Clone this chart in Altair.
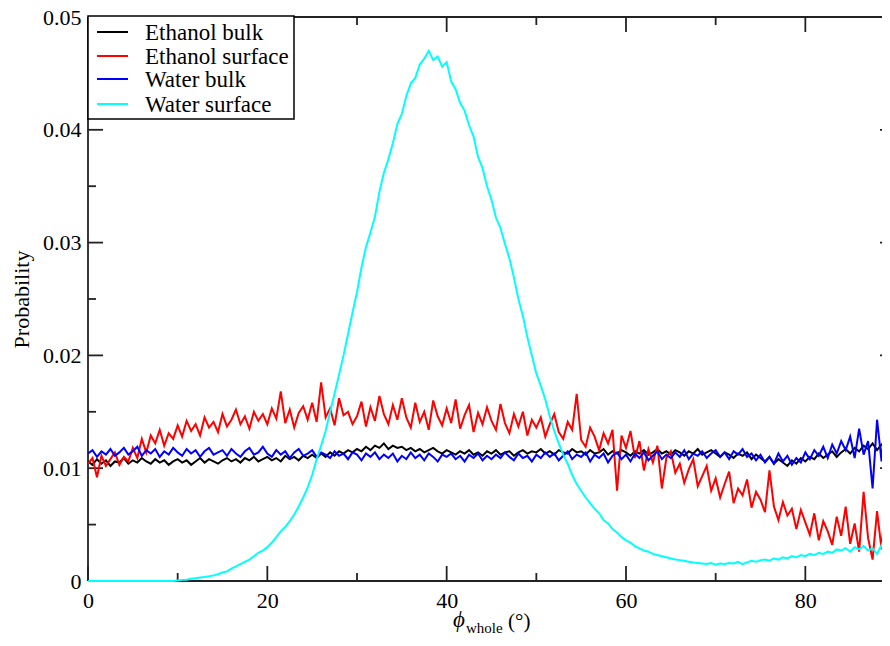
import altair as alt
import pandas as pd

# ---------------- data (probability in units of 1e-3) ----------------
phi = [i * 0.5 for i in range(181)]  # 0 .. 90 degrees, sampling grid

series_names = ["Ethanol bulk", "Ethanol surface", "Water bulk", "Water surface"]
series_colors = ["#000000", "#ff0000", "#0000ff", "#00ffff"]

ethanol_bulk = [
    10.6, 10.3, 10.8, 10.4, 10.7, 10.2, 10.6, 10.5, 10.9, 10.4,
    10.7, 10.5, 10.9, 10.6, 10.4, 10.8, 10.5, 10.7, 10.3, 10.6,
    10.8, 10.5, 10.7, 10.3, 10.6, 10.9, 10.5, 10.8, 10.6, 10.4,
    10.7, 10.9, 10.6, 10.8, 10.5, 10.9, 10.7, 11.0, 10.6, 10.8,
    11.0, 10.7, 10.9, 10.6, 11.1, 10.8, 11.0, 10.7, 11.1, 10.9,
    11.2, 10.9, 11.3, 11.0, 11.4, 11.1, 11.5, 11.3, 11.6, 11.4,
    11.7, 11.5, 11.9, 11.6, 12.0, 11.8, 12.2, 11.7, 12.0, 11.8,
    11.9, 11.6, 11.8, 11.5, 11.7, 11.4, 11.6, 11.8, 11.5, 11.3,
    11.6, 11.4, 11.2, 11.5, 11.3, 11.6, 11.2, 11.4, 11.1, 11.5,
    11.3, 11.6, 11.2, 11.4, 11.5, 11.1, 11.4, 11.6, 11.3, 11.5,
    11.4, 11.7, 11.3, 11.5, 11.2, 11.6, 11.4, 11.3, 11.7, 11.4,
    11.5, 11.2, 11.6, 11.3, 11.4, 11.7, 11.2, 11.5, 11.3, 11.6,
    11.4, 11.1, 11.5, 11.3, 11.6, 11.2, 11.4, 11.7, 11.3, 11.5,
    11.2, 11.6, 11.4, 11.1, 11.5, 11.3, 11.7, 11.2, 11.4, 11.6,
    11.3, 11.0, 11.4, 11.2, 10.9, 11.3, 11.1, 11.4, 10.8, 11.2,
    10.9, 10.6, 11.0, 10.4, 10.8, 10.5, 10.2, 10.7, 10.4, 10.9,
    10.6, 11.0, 10.8, 11.3, 10.9, 11.2, 11.5, 11.0, 11.4, 11.7,
    11.3, 11.8, 11.5, 12.0, 11.7, 12.2, 11.6, 12.1, 11.9, 12.3,
    11.8,
]

ethanol_surface = [
    10.4, 10.9, 9.2, 11.1, 10.2, 10.8, 11.4, 10.3, 11.0, 10.6,
    11.8, 10.9, 12.6, 11.4, 12.9, 12.2, 13.4, 12.0, 13.1, 12.6,
    13.8, 12.8, 14.2, 13.3, 13.9, 12.9, 14.5, 13.6, 14.1, 13.2,
    14.8, 13.7, 14.3, 15.2, 13.9, 14.6, 13.5, 15.0, 14.2, 14.8,
    13.9, 15.3, 14.4, 16.8, 14.0, 15.2, 13.6, 14.9, 15.5, 14.3,
    15.8, 14.1, 17.6, 14.5, 15.3, 13.8, 16.2, 14.7, 15.0, 13.9,
    14.6, 15.9, 13.7, 15.4, 14.2, 16.4, 14.8, 13.9, 15.6, 14.3,
    16.2, 14.5, 13.6, 15.8, 14.1, 15.0, 13.4, 16.0, 14.6, 13.8,
    15.3, 14.0, 16.1, 13.5, 14.7, 15.6, 13.2, 14.9, 13.9, 15.4,
    14.2, 13.4, 15.7, 14.0, 13.1, 14.8, 13.7, 15.0, 12.9, 14.3,
    13.6, 14.5, 12.8, 13.9, 14.8, 13.2, 12.6, 14.1, 13.4, 16.6,
    12.5, 11.9, 13.6, 12.8, 11.6, 13.1, 12.2, 13.4, 8.0, 12.9,
    11.8, 13.3, 10.9, 12.4, 9.8, 11.7, 10.5, 12.0, 8.2, 10.9,
    11.5, 9.6, 10.4, 8.7, 9.9, 10.8, 8.4, 9.3, 10.2, 8.0,
    9.1, 7.4, 8.6, 9.7, 6.9, 8.2, 7.6, 9.0, 6.5, 7.9,
    7.2, 6.1, 9.8, 6.6, 5.4, 7.0, 5.8, 6.4, 4.6, 6.3,
    5.2, 4.1, 6.0, 3.6, 5.3, 4.4, 3.2, 5.7, 4.0, 6.6,
    3.3, 5.1, 2.6, 7.9, 3.8, 1.9, 6.2, 2.8, 8.1, 2.4,
    0.5,
]

water_bulk = [
    11.3, 11.6, 11.0, 11.5, 11.2, 11.7, 11.1, 11.4, 11.8, 11.2,
    11.5, 11.9, 11.1, 11.6, 11.3, 11.7, 11.0, 11.5, 11.2, 11.8,
    11.4, 11.1, 11.7, 11.3, 11.6, 11.0, 11.5, 11.8, 11.2, 11.4,
    11.6, 11.1, 11.7, 11.3, 11.0, 11.5, 11.8, 11.2, 11.4, 11.9,
    11.3, 11.0, 11.6, 11.2, 11.5, 10.9, 11.4, 11.7, 11.1, 11.3,
    11.6, 11.0, 11.4, 11.2, 10.9, 11.5, 11.1, 11.3, 10.8, 11.4,
    11.2, 10.7, 11.3, 11.0, 11.4, 10.8, 11.2, 10.9, 11.3, 10.6,
    11.1, 10.8, 11.4, 10.9, 11.2, 10.7, 11.3, 11.0, 10.6, 11.2,
    11.0, 11.3, 10.8, 11.1, 10.6, 11.2, 10.9, 11.3, 10.7, 11.1,
    10.8, 11.2, 10.9, 11.4, 11.0, 10.7, 11.3, 10.9, 11.1, 10.6,
    11.2, 10.9, 11.4, 11.0, 11.3, 10.7, 11.1, 11.5, 10.8, 11.2,
    11.0, 11.4, 10.6, 11.2, 10.9, 11.3, 10.5, 11.1, 11.4, 10.8,
    11.2, 10.6, 11.3, 10.9, 11.4, 10.7, 11.1, 11.5, 10.8, 11.2,
    10.9, 11.4, 11.0, 11.6, 10.8, 11.3, 11.1, 11.5, 10.9, 11.3,
    11.6, 11.0, 11.4, 10.8, 11.5, 11.2, 11.7, 11.0, 11.3, 10.7,
    11.2, 10.5, 11.0, 10.4, 11.3, 10.6, 11.1, 10.3, 10.9, 10.5,
    11.4, 10.8, 11.6, 11.1, 11.9, 10.9, 12.1, 11.3, 12.4, 11.6,
    12.8, 10.9, 13.5, 11.2, 12.4, 8.2, 14.3, 10.6, 16.0, 11.0,
    13.2,
]

water_surface = [
    0.0, 0.0, 0.0, 0.0, 0.0, 0.0, 0.0, 0.0, 0.0, 0.0,
    0.0, 0.0, 0.0, 0.0, 0.0, 0.0, 0.0, 0.0, 0.0, 0.0,
    0.05, 0.1, 0.12, 0.2, 0.25, 0.3, 0.35, 0.42, 0.5, 0.6,
    0.75, 0.85, 1.1, 1.3, 1.5, 1.7, 1.9, 2.2, 2.5, 2.7,
    3.0, 3.4, 3.9, 4.4, 4.8, 5.3, 5.9, 6.6, 7.4, 8.3,
    9.4, 10.8, 12.0, 13.3, 15.0, 16.6, 18.3, 20.0, 21.9, 23.8,
    25.6, 27.8, 29.6, 30.9, 32.3, 34.5, 36.2, 37.4, 38.8, 40.5,
    41.4, 43.0, 44.1, 44.6, 45.8, 46.3, 47.0, 46.2, 46.5, 45.6,
    46.0, 44.3, 43.6, 42.4, 41.7, 40.4, 39.4, 37.6, 36.6, 35.0,
    33.8, 32.2, 31.3, 29.9, 28.6, 26.9, 25.0, 23.5, 21.6, 20.0,
    18.4, 17.3, 16.1, 14.6, 13.3, 12.2, 11.2, 10.4, 9.4, 8.6,
    8.0, 7.4, 6.9, 6.4, 6.0, 5.4, 5.1, 4.6, 4.3, 3.9,
    3.6, 3.4, 3.1, 2.9, 2.7, 2.6, 2.4, 2.3, 2.2, 2.1,
    2.0, 1.9, 1.85, 1.8, 1.7, 1.65, 1.6, 1.55, 1.5, 1.6,
    1.45, 1.55, 1.5, 1.6, 1.55, 1.7, 1.5, 1.65, 1.8, 1.7,
    1.85, 1.9, 1.8, 2.0, 1.9, 2.1, 2.0, 2.2, 2.1, 2.3,
    2.2, 2.4, 2.3, 2.5, 2.4, 2.6, 2.5, 2.8, 2.7, 2.9,
    2.6, 3.0, 2.8, 3.1, 2.7, 2.9, 2.4, 3.2, 1.8, 2.6,
    1.4,
]

x_major = [0, 20, 40, 60, 80]
x_minor = [10, 30, 50, 70]
y_major = [0, 0.01, 0.02, 0.03, 0.04, 0.05]
y_minor = [0.005, 0.015, 0.025, 0.035, 0.045]

# ---------------- tables ----------------
rows = []
for name, vals in zip(series_names, [ethanol_bulk, ethanol_surface, water_bulk, water_surface]):
    for p, v in zip(phi, vals):
        rows.append({"phi": p, "prob": v / 1000.0, "series": name})
df = pd.DataFrame(rows)

X0, X1, Y0, Y1 = 0.0, 90.0, 0.0, 0.05
W_RANGE = 807.0   # pixel length of the full 0..90 range (right edge lies off-page)
W = 794
H = 564
xpx = (X1 - X0) / W_RANGE
ypx = (Y1 - Y0) / H
MAJ, MIN = 15, 8

frame = []
frame += [dict(x=X0, x2=X1, y=Y0, y2=Y0), dict(x=X0, x2=X1, y=Y1, y2=Y1),
          dict(x=X0, x2=X0, y=Y0, y2=Y1), dict(x=X1, x2=X1, y=Y0, y2=Y1)]
for t, L in [(t, MAJ) for t in x_major] + [(t, MIN) for t in x_minor]:
    frame.append(dict(x=t, x2=t, y=Y0, y2=Y0 + L * ypx))
    frame.append(dict(x=t, x2=t, y=Y1, y2=Y1 - L * ypx))
for t, L in [(t, MAJ) for t in y_major] + [(t, MIN) for t in y_minor]:
    frame.append(dict(x=X0, x2=X0 + L * xpx, y=t, y2=t))
    frame.append(dict(x=X1, x2=X1 - L * xpx, y=t, y2=t))
frame_df = pd.DataFrame(frame)

# legend rows: pixel offsets from the plot top, expressed on the y scale
leg_px = [15, 39, 62, 87]
leg_df = pd.DataFrame({"series": series_names,
                       "ly": [Y1 - p * ypx for p in leg_px]})

FONT = "Liberation Serif"
xscale = alt.Scale(domain=[X0, X1], range=[0, W_RANGE], nice=False, zero=False)
yscale = alt.Scale(domain=[Y0, Y1], nice=False, zero=False)
cscale = alt.Scale(domain=series_names, range=series_colors)

ticks = alt.Chart(frame_df).mark_rule(color="#222222", strokeWidth=1.8).encode(
    x=alt.X("x:Q", scale=xscale), x2="x2:Q",
    y=alt.Y("y:Q", scale=yscale), y2="y2:Q",
)

lines = alt.Chart(df).mark_line(strokeWidth=2, clip=False).encode(
    x=alt.X("phi:Q", scale=xscale,
            axis=alt.Axis(values=x_major, title="", domain=False, ticks=False, grid=False,
                          labelFlush=False, labelFont=FONT, labelFontSize=22,
                          labelColor="black", labelPadding=9)),
    y=alt.Y("prob:Q", scale=yscale,
            axis=alt.Axis(values=y_major, domain=False, ticks=False, grid=False,
                          labelFlush=False,
                          labelExpr="datum.value == 0 ? '0' : format(datum.value, '.2f')",
                          labelFont=FONT, labelFontSize=22, labelColor="black",
                          labelPadding=7,
                          title="Probability", titleFont=FONT, titleFontSize=22,
                          titleFontWeight="normal", titleColor="black",
                          titleAngle=270, titleX=-67, titleY=282,
                          titleAlign="center", titleBaseline="middle")),
    color=alt.Color("series:N", scale=cscale, legend=None),
    detail="series:N",
)

# ---- legend box ----
leg_box = alt.Chart(pd.DataFrame({"a": [0]})).mark_rect(
    fill="white", stroke="black", strokeWidth=1.5).encode(
    x=alt.value(0), x2=alt.value(206), y=alt.value(-1), y2=alt.value(102))
leg_sym = alt.Chart(leg_df).mark_rule(strokeWidth=2).encode(
    x=alt.value(9), x2=alt.value(40),
    y=alt.Y("ly:Q", scale=yscale),
    color=alt.Color("series:N", scale=cscale, legend=None))
leg_txt = alt.Chart(leg_df).mark_text(font=FONT, fontSize=23, align="left",
                                      baseline="middle", color="black", dy=1).encode(
    x=alt.value(57),
    y=alt.Y("ly:Q", scale=yscale),
    text="series:N")

one = pd.DataFrame({"a": [0]})
t_phi = alt.Chart(one).mark_text(font=FONT, fontSize=23, fontStyle="italic",
                                 align="left", baseline="alphabetic", color="black").encode(
    x=alt.value(365), y=alt.value(610), text=alt.value("ϕ"))
t_sub = alt.Chart(one).mark_text(font=FONT, fontSize=15,
                                 align="left", baseline="alphabetic", color="black").encode(
    x=alt.value(378), y=alt.value(616), text=alt.value("whole"))
t_deg = alt.Chart(one).mark_text(font=FONT, fontSize=21,
                                 align="left", baseline="alphabetic", color="black").encode(
    x=alt.value(420), y=alt.value(611), text=alt.value("(°)"))

chart = alt.layer(ticks, lines, leg_box, leg_sym, leg_txt, t_phi, t_sub, t_deg).properties(
    width=W, height=H,
    autosize=alt.AutoSizeParams(type="none"),
    padding={"left": 80, "top": 9, "right": 0, "bottom": 54},
).configure_view(strokeWidth=0)

chart.save("out.html", embed_options={"renderer": "svg", "actions": False})
